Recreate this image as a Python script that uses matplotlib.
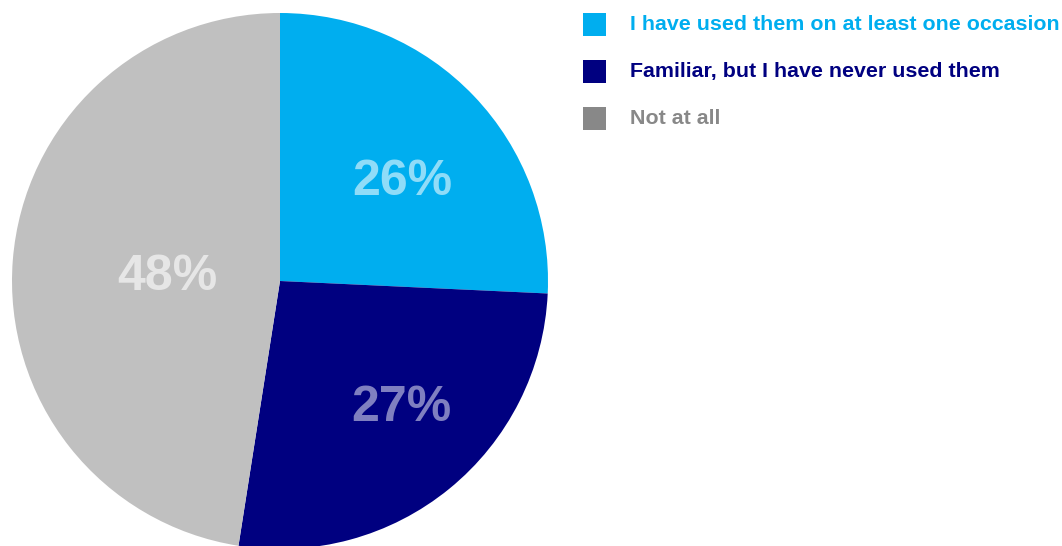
import matplotlib
matplotlib.use("Agg")
import matplotlib.pyplot as plt
from matplotlib.patches import Rectangle
from matplotlib.transforms import offset_copy
import numpy as np

categories = ["I have used them on at least one occasion",
              "Familiar, but I have never used them",
              "Not at all"]
values = [26, 27, 48]
labels = ["26%", "27%", "48%"]
slice_colors = ["#00AEEF", "#000080", "#C0C0C0"]
legend_colors = ["#00AEEF", "#000080", "#888888"]
label_dist = [0.60, 0.64, 0.42]
label_shift = [-3.3, 5.6, -0.2]
label_colors = ["#8FDCF8", "#7F7FC0", "#E6E6E6"]

plt.rcParams['font.family'] = ['Liberation Sans', 'DejaVu Sans']

W, H = 1062, 546
fig = plt.figure(figsize=(W / 100, H / 100), dpi=100)
cx, cy, r = 280, 281, 268
ax = fig.add_axes([(cx - r) / W, (H - cy - r) / H, 2 * r / W, 2 * r / H])
wedges, _ = ax.pie(values, colors=slice_colors, startangle=90, counterclock=False,
                   radius=1.0, wedgeprops=dict(linewidth=0))
ax.set_xlim(-1, 1)
ax.set_ylim(-1, 1)
ax.set_aspect('equal')
ax.axis('off')

tr = offset_copy(ax.transData, fig=fig, x=0, y=-5, units='dots')
for w, lab, d, s, c in zip(wedges, labels, label_dist, label_shift, label_colors):
    ang = np.deg2rad((w.theta1 + w.theta2) / 2 + s)
    ax.text(d * np.cos(ang), d * np.sin(ang), lab, ha='center', va='center',
            fontsize=36, fontweight='bold', color=c, transform=tr)

# legend
sq = 23
for i, (cat, c) in enumerate(zip(categories, legend_colors)):
    yc = 24.5 + 47 * i
    fig.patches.append(Rectangle((583 / W, 1 - (yc + sq / 2) / H), sq / W, sq / H,
                                 transform=fig.transFigure, facecolor=c,
                                 edgecolor='none'))
    fig.text(630 / W, 1 - yc / H, cat, ha='left', va='center', fontsize=15.4,
             fontweight='bold', color=c)

fig.savefig("out.png", dpi=100)
